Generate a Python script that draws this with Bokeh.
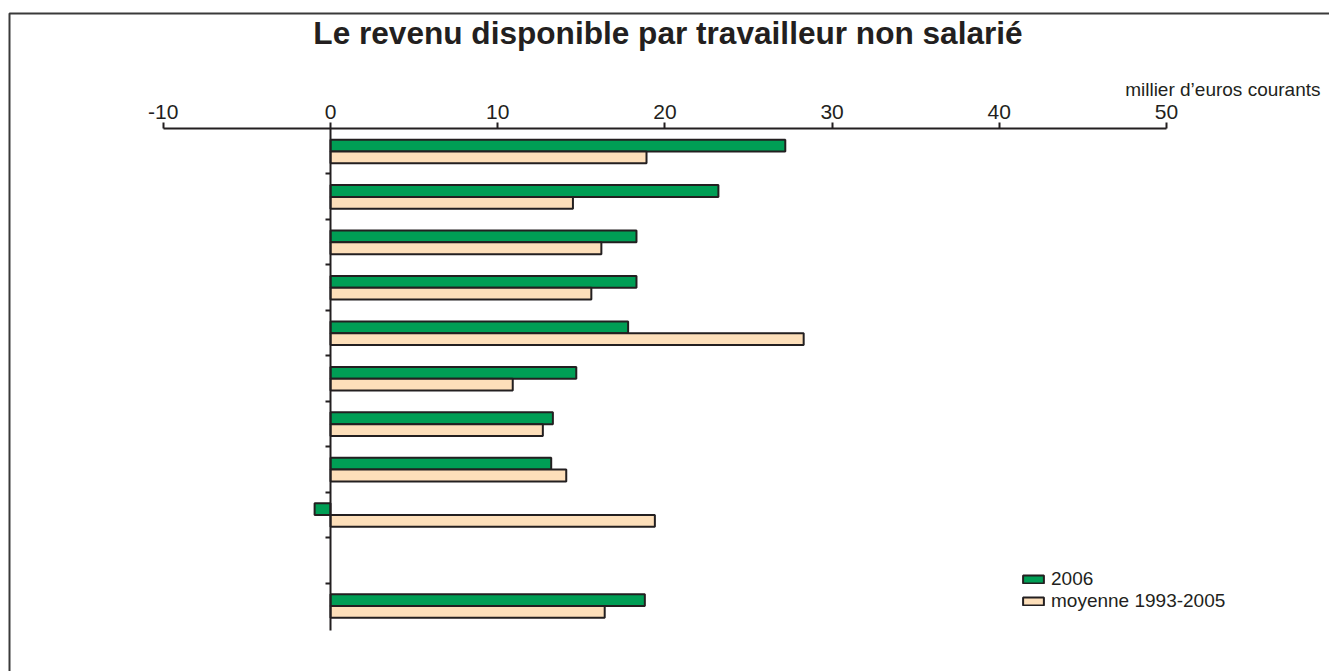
from bokeh.plotting import figure
from bokeh.models import (Range1d, LinearAxis, FixedTicker, Label, Legend,
                          LegendItem, ColumnDataSource)
from bokeh.embed import file_html
from bokeh.resources import INLINE

# ---- data -------------------------------------------------------------
groupes = list(range(1, 12))                      # 11 rows (row 10 empty)
revenu_2006 = [27.2, 23.2, 18.3, 18.3, 17.8, 14.7, 13.3, 13.2, -0.95, None, 18.8]
revenu_moyenne = [18.9, 14.5, 16.2, 15.6, 28.3, 10.9, 12.7, 14.1, 19.4, None, 16.4]
x_ticks = [-10, 0, 10, 20, 30, 40, 50]
series_labels = ["2006", "moyenne 1993-2005"]
title_text = "Le revenu disponible par travailleur non salarié"
unit_text = "millier d\u2019euros courants"

GREEN = "#009e55"
BEIGE = "#fddfba"
INK = "#231f20"
FONT = "Liberation Sans"

# ---- layout constants (page pixels) -----------------------------------
W, H = 1329, 671          # canvas size
OX, OY = 0, 0             # canvas origin on the page
PX_X0 = 330.0             # page x of value 0
PX_PER_UNIT = 16.72       # pixels per thousand euros
PX_Y0 = 128.0             # page y of the top of the first row
PX_PER_ROW = 45.45        # row pitch

def dx(px):
    return (px - PX_X0) / PX_PER_UNIT

def dy(py):
    return (py - PX_Y0) / PX_PER_ROW

# ---- sources ----------------------------------------------------------
def make_source(vals, offset):
    ys, xs = [], []
    for i, v in enumerate(vals):
        if v is not None:
            ys.append(i + offset)
            xs.append(v)
    return ColumnDataSource(dict(y=ys, right=xs))

src_2006 = make_source(revenu_2006, 0.375)
src_moy = make_source(revenu_moyenne, 0.635)

# ---- figure (frame covers the whole canvas) ---------------------------
p = figure(width=W, height=H,
           x_range=Range1d(dx(OX), dx(OX + W)),
           y_range=Range1d(dy(OY + H), dy(OY)),
           x_axis_location=None, y_axis_location=None,
           toolbar_location=None, output_backend="svg",
           min_border=0)
p.outline_line_color = None
p.xgrid.visible = False
p.ygrid.visible = False
p.background_fill_color = "white"
p.border_fill_color = "white"

# frame around the chart (top and left edges are visible in the picture)
p.line(x=[dx(9), dx(9), dx(OX + W + 20)], y=[dy(OY + H + 20), dy(13), dy(13)],
       line_color="#3a3a3a", line_width=2)

r1 = p.hbar(y="y", left=0, right="right", height=0.26, source=src_2006,
            fill_color=GREEN, line_color=INK, line_width=2)
r2 = p.hbar(y="y", left=0, right="right", height=0.26, source=src_moy,
            fill_color=BEIGE, line_color=INK, line_width=2)

# x axis on top of the rows
xax = LinearAxis(ticker=FixedTicker(ticks=x_ticks), fixed_location=0,
                 bounds=(x_ticks[0], x_ticks[-1]))
xax.axis_line_color = INK
xax.axis_line_width = 2
xax.major_tick_line_color = INK
xax.major_tick_line_width = 2
xax.major_tick_in = 0
xax.major_tick_out = 6
xax.minor_tick_line_color = None
xax.major_label_text_font = FONT
xax.major_label_text_font_size = "21px"
xax.major_label_text_color = INK
xax.major_label_standoff = 4
xax.major_label_overrides = {t: str(t) for t in x_ticks}
p.add_layout(xax, "above")

# y axis at x = 0 with ticks between the rows
yax = LinearAxis(ticker=FixedTicker(ticks=list(range(1, len(groupes)))),
                 fixed_location=0, bounds=(0, len(groupes) + 0.04))
yax.axis_line_color = INK
yax.axis_line_width = 2
yax.major_tick_line_color = INK
yax.major_tick_line_width = 2
yax.major_tick_in = 0
yax.major_tick_out = 5
yax.minor_tick_line_color = None
yax.major_label_overrides = {i: "" for i in range(1, len(groupes))}
p.add_layout(yax, "left")

# title and unit
p.add_layout(Label(x=dx(667.5), y=dy(32.5), text=title_text, text_align="center",
                   text_baseline="alphabetic", text_font=FONT,
                   text_font_size="31.6px", text_font_style="bold", text_color=INK))
p.add_layout(Label(x=dx(1320), y=dy(89.0), text=unit_text, text_align="right",
                   text_baseline="alphabetic", text_font=FONT,
                   text_font_size="19px", text_color=INK))

# legend
legend = Legend(items=[LegendItem(label=series_labels[0], renderers=[r1]),
                       LegendItem(label=series_labels[1], renderers=[r2])],
                location=(1020 - OX, OY + H - 612), orientation="vertical",
                glyph_width=26, glyph_height=10, label_standoff=5,
                label_text_font=FONT, label_text_font_size="19px",
                label_text_color=INK, padding=0, margin=0, spacing=0,
                border_line_color=None, background_fill_alpha=0)
p.add_layout(legend)

open("out.html", "w").write(file_html(p, INLINE))
